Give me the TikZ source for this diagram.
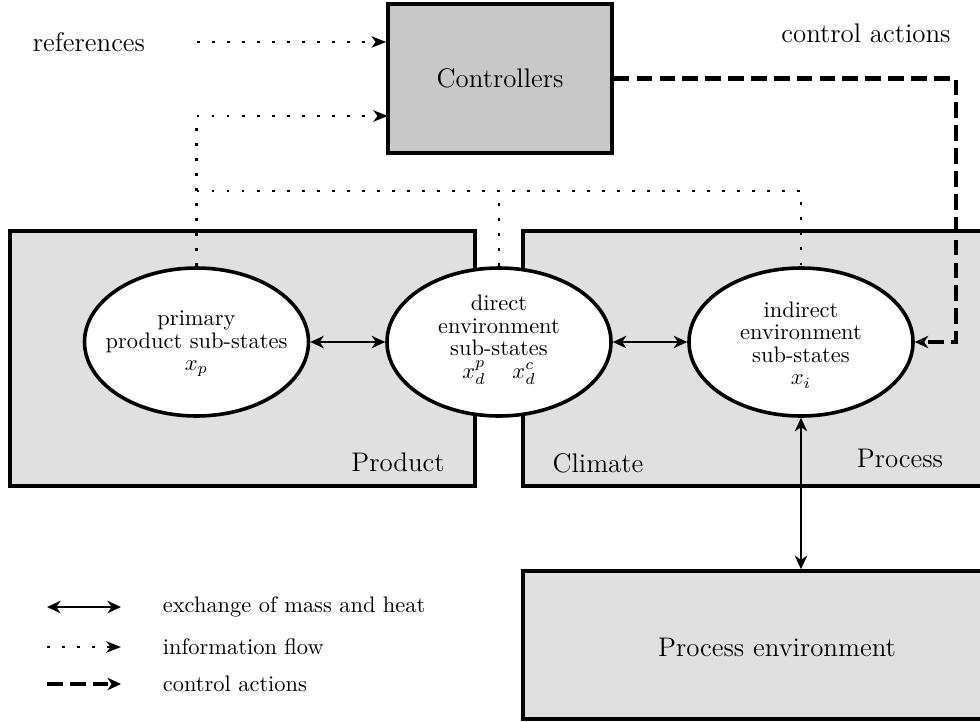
\documentclass[tikz,border=0pt]{standalone}
\usetikzlibrary{shapes.geometric,arrows.meta,calc}
\definecolor{boxgray}{RGB}{224,224,224}
\definecolor{ctrlgray}{RGB}{200,200,200}
\def\U{0.446pt}
\begin{document}
\begin{tikzpicture}[x=0.446pt,y=-0.446pt,
  region/.style={draw, line width=1.6pt, fill=boxgray, rectangle, inner sep=0pt, font=\large},
  label/.style={font=\large},
  state/.style={draw, line width=1.6pt, fill=white, ellipse, inner sep=0pt,
    minimum width={224*\U}, minimum height={148*\U}},
  statetext/.style={align=center, inner sep=0pt, font=\fontsize{10}{10}\selectfont},
  exch/.style={line width=1.3pt,
    {Stealth[length=6pt,width=5.5pt,inset=1.8pt]}-{Stealth[length=6pt,width=5.5pt,inset=1.8pt]}},
  infoline/.style={line width=1.3pt, dash pattern=on 1.3pt off 5.4pt},
  info/.style={infoline, -{Stealth[length=6.5pt,width=5pt,inset=1.8pt]}},
  ctrlarrow/.style={line width=1.8pt, dash pattern=on 7pt off 3.2pt,
    -{Stealth[length=6pt,width=5.5pt,inset=1.8pt]}},
]
\useasboundingbox (0,0) rectangle (980,722);
\clip (0,0) rectangle (980,722);

% regions
\node[region, minimum width={465*\U}, minimum height={255*\U}] (product) at (242.5,358.5) {};
\node[region, minimum width={487*\U}, minimum height={255*\U}] (climate) at (766.5,358.5) {};
\node[region, minimum width={487*\U}, minimum height={148*\U}] (penv) at (766.5,645) {};
\node[region, fill=ctrlgray, minimum width={224*\U}, minimum height={149*\U}] (controllers) at (500,78.5) {Controllers};

\node[label] (productlbl) at (398,462) {Product};
\node[label] (climatelbl) at (598,463) {Climate};
\node[label] (processlbl) at (900,458) {Process};
\node[label] (penvlbl) at (777,647) {Process environment};
\node[label] (refs) at (89,42) {references};
\node[label] (ctrllbl) at (866,33) {control actions};

% sub-state ellipses
\node[state] (prim) at (196.5,342) {};
\node[state] (dir) at (499,342) {};
\node[state] (ind) at (801,342) {};
\node[statetext] (primtxt) at (196.5,344) {primary\\product sub-states\\$x_p$};
\node[statetext] (dirtxt) at (499,340) {direct\\environment\\sub-states\\$x_d^p\hspace{12pt}x_d^c$};
\node[statetext] (indtxt) at (801,345) {indirect\\environment\\sub-states\\$x_i$};

% information flow
\coordinate (refstart) at (197,42);
\coordinate (fbin) at (388,116);
\coordinate (bus) at (196.5,191);
\draw[info] (refstart) -- (controllers.west |- refstart);
\draw[info] (prim.north) |- (fbin);
\draw[infoline] (bus) -| (ind.north);
\draw[infoline] (dir.north) -- (dir.north |- bus);

% exchange of mass and heat
\draw[exch] (prim.east) -- (dir.west);
\draw[exch] (dir.east) -- (ind.west);
\draw[exch] (ind.south) -- (ind.south |- penv.north);

% control actions
\draw[ctrlarrow] (controllers.east) -| ($(ind.east)+(41,0)$) -- (ind.east);

% legend
\coordinate (l1a) at (47,607); \coordinate (l1b) at (121,607);
\coordinate (l2a) at (47,647); \coordinate (l2b) at (121,647);
\coordinate (l3a) at (47,684); \coordinate (l3b) at (121,684);
\draw[exch] (l1a) -- (l1b);
\draw[info] (l2a) -- (l2b);
\draw[ctrlarrow] (l3a) -- (l3b);
\node[anchor=west] (lt1) at (155,607) {exchange of mass and heat};
\node[anchor=west] (lt2) at (155,647) {information flow};
\node[anchor=west] (lt3) at (155,684) {control actions};
\end{tikzpicture}
\end{document}
